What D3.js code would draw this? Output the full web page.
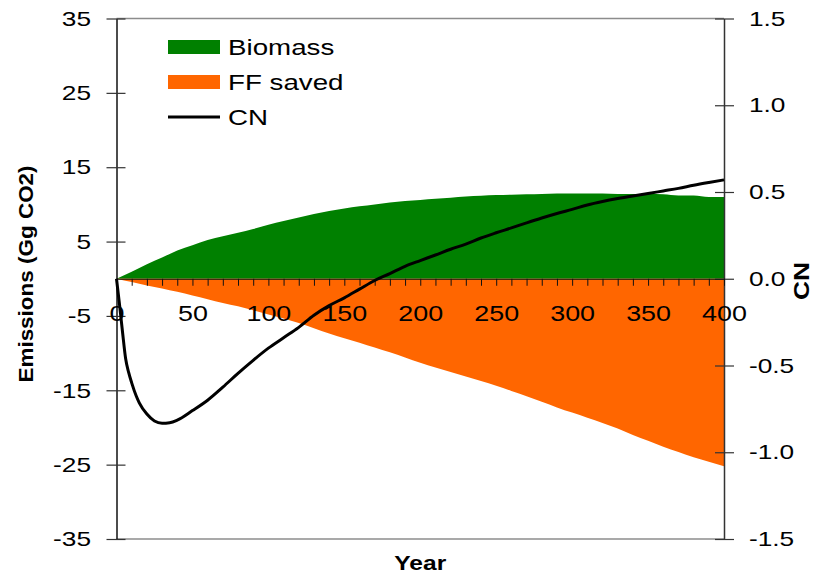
<!DOCTYPE html>
<html>
<head>
<meta charset="utf-8">
<script src="https://cdn.jsdelivr.net/npm/d3@7"></script>
<style>
  body { margin: 0; background: #fff; }
  svg { display: block; font-family: "Liberation Sans", Arial, sans-serif; }
</style>
</head>
<body>
<div id="wrapper"></div>
<script>
// Values

// Emissions, Gg CO2, every 10 years
const years = [0, 10, 20, 30, 40, 50, 60, 70, 80, 90, 100, 110, 120, 130, 140, 150, 160, 170, 180, 190,
	200, 210, 220, 230, 240, 250, 260, 270, 280, 290, 300, 310, 320, 330, 340, 350, 360, 370, 380, 390, 400]
const biomass = [0, 0.95, 1.95, 2.85, 3.8, 4.5, 5.2, 5.7, 6.2, 6.7, 7.25, 7.75, 8.25, 8.7, 9.1, 9.45, 9.75, 10.0, 10.25, 10.45,
	10.6, 10.75, 10.9, 11.05, 11.15, 11.25, 11.3, 11.35, 11.4, 11.45, 11.45, 11.45, 11.45, 11.4, 11.4, 11.4, 11.35, 11.2, 11.2, 11.0, 11.0]
const ffSaved = [0, -0.45, -0.9, -1.3, -1.75, -2.25, -2.75, -3.25, -3.7, -4.25, -4.8, -5.35, -5.95, -6.65, -7.35, -8.0, -8.6, -9.25, -9.9, -10.6,
	-11.3, -11.95, -12.55, -13.15, -13.75, -14.4, -15.1, -15.8, -16.55, -17.3, -18.0, -18.7, -19.4, -20.15, -21.0, -21.8, -22.6, -23.3, -24.0, -24.6, -25.2]

// CN (right axis)
const cnYears = [0, 2, 4, 6, 8, 10, 13, 15, 20, 25, 30, 35, 40, 50, 60, 70, 80, 90, 100, 110, 120, 130, 140, 150, 160, 170, 180, 190,
	200, 210, 220, 230, 240, 250, 260, 270, 280, 290, 300, 310, 320, 330, 340, 350, 360, 370, 380, 390, 400]
const cnValues = [0, -0.15, -0.31, -0.46, -0.54, -0.6, -0.676, -0.715, -0.78, -0.82, -0.833, -0.83, -0.815, -0.76, -0.7, -0.625, -0.545, -0.47, -0.4, -0.34, -0.28, -0.21, -0.155, -0.11, -0.06, -0.01, 0.03, 0.072,
	0.105, 0.137, 0.17, 0.2, 0.235, 0.265, 0.293, 0.322, 0.35, 0.376, 0.4, 0.425, 0.445, 0.462, 0.477, 0.491, 0.506, 0.521, 0.539, 0.555, 0.57]

// Ticks and labels
const emissionTicks = [-35, -25, -15, -5, 5, 15, 25, 35]
const cnTicks = [-1.5, -1.0, -0.5, 0, 0.5, 1.0, 1.5]
const yearLabels = [0, 50, 100, 150, 200, 250, 300, 350, 400]
const legendLabels = ["Biomass", "FF saved", "CN"]
const legendColors = ["#008000", "#ff6600", "#000000"]

function drawChart() {
	let dimensions = {
		width: 825,
		height: 576,
		margin: {
			top: 18.5,
			right: 101,
			bottom: 37,
			left: 116.5
		}
	};
	dimensions.boundedWidth = dimensions.width - dimensions.margin.left - dimensions.margin.right
	dimensions.boundedHeight = dimensions.height - dimensions.margin.top - dimensions.margin.bottom

	// text in the original is drawn a bit wide
	const stretch = 1.25
	// plain hyphen for negatives, like the original
	const hyphen = f => d => f(d).replace("\u2212", "-")

	const wrapper = d3.select("#wrapper")
		.append("svg")
		.attr("width", dimensions.width)
		.attr("height", dimensions.height)

	const bounds = wrapper.append("g")
		.attr("transform", `translate(${dimensions.margin.left}, ${dimensions.margin.top})`)

	// Scales
	const xScale = d3.scaleLinear()
		.domain([0, 400])
		.range([0, dimensions.boundedWidth])
	const yScale = d3.scaleLinear()
		.domain([-35, 35])
		.range([dimensions.boundedHeight, 0])
	const cnScale = d3.scaleLinear()
		.domain([-1.5, 1.5])
		.range([dimensions.boundedHeight, 0])

	// Areas
	const emissionData = years.map((y, i) => ({ year: y, biomass: biomass[i], ff: ffSaved[i] }))

	const biomassArea = d3.area()
		.x(d => xScale(d.year))
		.y0(yScale(0))
		.y1(d => yScale(d.biomass))
		.curve(d3.curveMonotoneX)
	const ffArea = d3.area()
		.x(d => xScale(d.year))
		.y0(yScale(0))
		.y1(d => yScale(d.ff))
		.curve(d3.curveMonotoneX)

	bounds.append("path")
		.attr("d", biomassArea(emissionData))
		.attr("fill", legendColors[0])
	bounds.append("path")
		.attr("d", ffArea(emissionData))
		.attr("fill", legendColors[1])

	// plot area frame (top and bottom are grey)
	bounds.append("line")
		.attr("x1", 0).attr("x2", dimensions.boundedWidth)
		.attr("y1", 0).attr("y2", 0)
		.attr("stroke", "#8c8c8c").attr("stroke-width", 1.5)
	bounds.append("line")
		.attr("x1", 0).attr("x2", dimensions.boundedWidth)
		.attr("y1", dimensions.boundedHeight).attr("y2", dimensions.boundedHeight)
		.attr("stroke", "#8c8c8c").attr("stroke-width", 1.5)

	// Left axis
	const yAxis = bounds.append("g")
		.call(d3.axisLeft(yScale).tickValues(emissionTicks).tickSize(10).tickSizeOuter(0).tickFormat(hyphen(d3.format("d"))))
	yAxis.select(".domain").attr("stroke", "#111").attr("stroke-width", 1.5)
	yAxis.selectAll(".tick line").attr("x1", 9).attr("stroke", "#333").attr("stroke-width", 1.2)
	yAxis.selectAll(".tick text")
		.attr("x", -25.5 / stretch)
		.attr("transform", `scale(${stretch},1)`)
		.style("font-size", "21px")
		.attr("fill", "#000")

	// Right axis
	const cnAxis = bounds.append("g")
		.attr("transform", `translate(${dimensions.boundedWidth}, 0)`)
		.call(d3.axisRight(cnScale).tickValues(cnTicks).tickSize(10).tickSizeOuter(0).tickFormat(hyphen(d3.format(".1f"))))
	cnAxis.select(".domain").attr("stroke", "#333").attr("stroke-width", 1.5)
	cnAxis.selectAll(".tick line").attr("x1", -9).attr("stroke", "#333").attr("stroke-width", 1.2)
	cnAxis.selectAll(".tick text")
		.attr("x", 25 / stretch)
		.attr("transform", `scale(${stretch},1)`)
		.style("font-size", "21px")
		.attr("fill", "#000")

	// X axis on the zero line, small ticks every 10 years
	const xAxis = bounds.append("g")
		.attr("transform", `translate(0, ${yScale(0)})`)
		.call(d3.axisBottom(xScale)
			.tickValues(d3.range(0, 401, 10))
			.tickSize(7)
			.tickSizeOuter(0)
			.tickFormat(d => yearLabels.includes(d) ? d : ""))
	xAxis.select(".domain").attr("stroke", "#111").attr("stroke-width", 1.2)
	xAxis.selectAll(".tick line").attr("stroke", "#111").attr("stroke-width", 1)
	xAxis.selectAll(".tick text")
		.attr("y", 42)
		.attr("dy", 0)
		.attr("transform", `scale(${stretch},1)`)
		.style("font-size", "21.5px")
		.attr("fill", "#000")

	wrapper.selectAll(".domain, .tick").attr("font-family", null)

	// CN line
	const cnLine = d3.line()
		.x(d => xScale(d[0]))
		.y(d => cnScale(d[1]))
		.curve(d3.curveMonotoneX)
	bounds.append("path")
		.attr("d", cnLine(cnYears.map((y, i) => [y, cnValues[i]])))
		.attr("fill", "none")
		.attr("stroke", legendColors[2])
		.attr("stroke-width", 3)
		.attr("stroke-linejoin", "round")

	// Axis titles
	wrapper.append("text")
		.attr("transform", `translate(33, 274) rotate(-90) scale(1.07,1)`)
		.attr("text-anchor", "middle")
		.style("font-size", "21px")
		.style("font-weight", "bold")
		.text("Emissions (Gg CO2)")

	wrapper.append("text")
		.attr("transform", `translate(809, 281) rotate(-90) scale(1.2,1)`)
		.attr("text-anchor", "middle")
		.style("font-size", "22px")
		.style("font-weight", "bold")
		.text("CN")

	wrapper.append("text")
		.attr("transform", `translate(${dimensions.margin.left + dimensions.boundedWidth / 2}, 570) scale(1.17,1)`)
		.attr("text-anchor", "middle")
		.style("font-size", "21px")
		.style("font-weight", "bold")
		.text("Year")

	// Legend
	const legend = wrapper.append("g")
		.attr("transform", "translate(168, 40)")
	const legendItems = legend.selectAll("g")
		.data(legendLabels)
		.join("g")
		.attr("transform", (d, i) => `translate(0, ${i * 35})`)

	legendItems.filter((d, i) => i < 2)
		.append("rect")
		.attr("width", 52)
		.attr("height", 14)
		.attr("fill", (d, i) => legendColors[i])
	legendItems.filter((d, i) => i == 2)
		.append("line")
		.attr("x1", 0).attr("x2", 52)
		.attr("y1", 7).attr("y2", 7)
		.attr("stroke", legendColors[2])
		.attr("stroke-width", 3)
	legendItems.append("text")
		.attr("transform", `translate(60, 14.5) scale(1.26,1)`)
		.style("font-size", "22px")
		.text(d => d)
}

drawChart()
</script>
</body>
</html>
